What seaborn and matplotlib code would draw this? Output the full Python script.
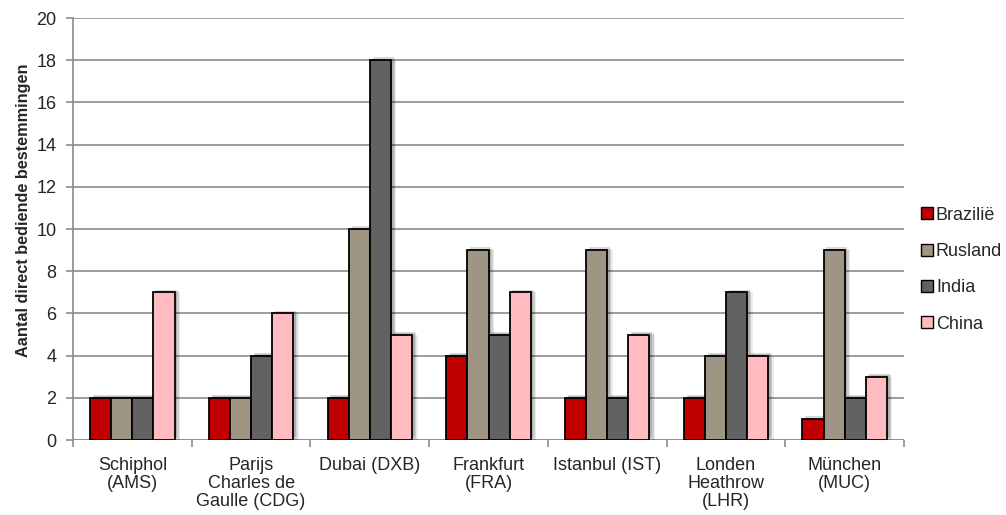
import seaborn as sns
import matplotlib.pyplot as plt
import matplotlib.patheffects as pe
import pandas as pd
import numpy as np

airports = ["Schiphol\n(AMS)", "Parijs\nCharles de\nGaulle (CDG)", "Dubai (DXB)",
            "Frankfurt\n(FRA)", "Istanbul (IST)", "Londen\nHeathrow\n(LHR)", "München\n(MUC)"]
brazilie = [2, 2, 2, 4, 2, 2, 1]
rusland = [2, 2, 10, 9, 9, 4, 9]
india = [2, 4, 18, 5, 2, 7, 2]
china = [7, 6, 5, 7, 5, 4, 3]

series = {"Brazilië": brazilie, "Rusland": rusland, "India": india, "China": china}
colors = ["#C00000", "#9E9584", "#626262", "#FFBBBF"]

rows = []
for name, vals in series.items():
    for ap, v in zip(airports, vals):
        rows.append({"Luchthaven": ap, "Land": name, "Aantal": v})
df = pd.DataFrame(rows)

sns.set_style("white")
plt.rcParams['font.family'] = ['Liberation Sans', 'DejaVu Sans']

fig = plt.figure(figsize=(10.06, 5.15), dpi=100)
ax = fig.add_axes([0.0726, 0.1456, 0.826, 0.8194])

sns.barplot(data=df, x="Luchthaven", y="Aantal", hue="Land", palette=colors, saturation=1,
            width=0.71, edgecolor="black", linewidth=1.3, gap=0, ax=ax, zorder=3)

# soft glow-like shadow, as in the original
for p in ax.patches:
    p.set_path_effects([
        pe.SimplePatchShadow(offset=(4, 0), shadow_rgbFace="black", alpha=0.08),
        pe.SimplePatchShadow(offset=(3, 1), shadow_rgbFace="black", alpha=0.12),
        pe.SimplePatchShadow(offset=(2, 2), shadow_rgbFace="black", alpha=0.15),
        pe.Normal()])

ax.set_ylim(0, 20)
ax.set_xlim(-0.5, 6.5)
ax.set_yticks(range(0, 21, 2))
ax.yaxis.grid(True, color="#8C8C8C", linewidth=1.2, zorder=0)
ax.set_axisbelow(True)
for s in ["top", "right", "bottom"]:
    ax.spines[s].set_visible(False)
ax.spines["left"].set_color("#8C8C8C")
ax.spines["left"].set_linewidth(1.2)
ax.axhline(0, color="#8C8C8C", linewidth=1.2, zorder=2)

ax.tick_params(axis="y", left=True, length=5, width=1.2, color="#8C8C8C", labelsize=13, pad=7)
ax.tick_params(axis="x", bottom=False, labelsize=13, pad=9)
for t in ax.get_xticklabels():
    t.set_linespacing(1.05)
ax.set_xticks(np.arange(-0.5, 7, 1), minor=True)
ax.tick_params(axis="x", which="minor", bottom=True, length=5, width=1.2, color="#8C8C8C")

ax.set_xlabel("")
ax.set_ylabel("Aantal direct bediende bestemmingen", fontsize=11.7, fontweight="bold")
ax.yaxis.set_label_coords(-0.051, 0.545)

ax.legend(loc="center left", bbox_to_anchor=(1.021, 0.404), frameon=False, fontsize=13,
          borderaxespad=0, borderpad=0,
          handlelength=0.65, handleheight=0.65, handletextpad=0.15, labelspacing=1.07)
for h in ax.get_legend().legend_handles:
    h.set_edgecolor("black")
    h.set_linewidth(1)
    h.set_path_effects([])

fig.savefig("out.png", dpi=100)
